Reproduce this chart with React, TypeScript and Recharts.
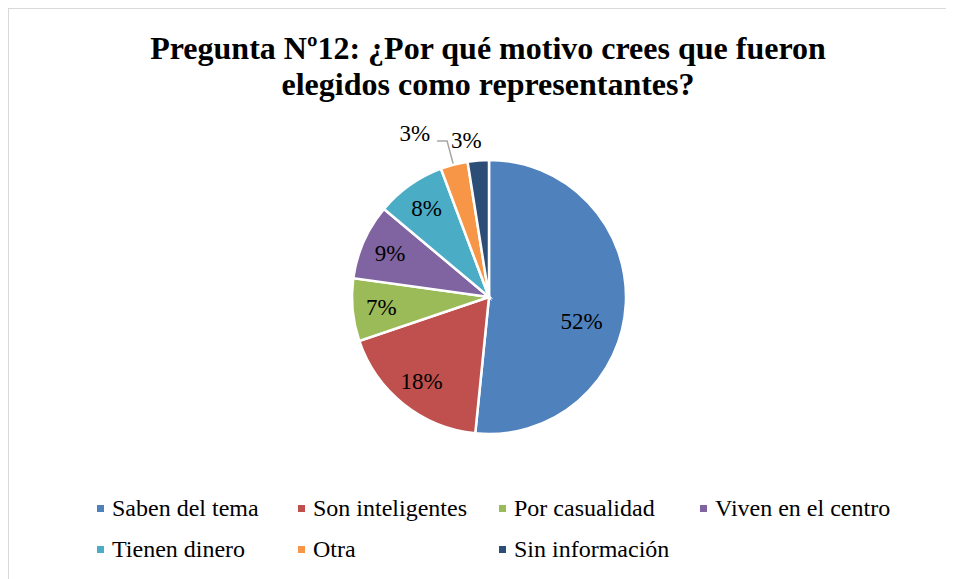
import React from "react";
import { PieChart, Pie, Cell, Legend } from "recharts";

const categories = [
  "Saben del tema",
  "Son inteligentes",
  "Por casualidad",
  "Viven en el centro",
  "Tienen dinero",
  "Otra",
  "Sin información",
];
const values = [51.6, 18.2, 7.4, 8.9, 8.2, 3.2, 2.5];
const colors = ["#4F81BD", "#C0504D", "#9BBB59", "#8064A2", "#4BACC6", "#F79646", "#2C4D75"];
const titleLines = ["Pregunta Nº12: ¿Por qué motivo crees que fueron", "elegidos como representantes?"];

const data = categories.map((name, i) => ({ name, value: values[i] }));

const FONT = "'Liberation Serif', 'Times New Roman', serif";
const RAD = Math.PI / 180;

const renderLabel = (props: any) => {
  const { cx, cy, midAngle, outerRadius, percent, index } = props;
  const text = `${Math.round(percent * 100)}%`;
  if (percent >= 0.05) {
    const ang = percent > 0.5 ? midAngle - 12 : midAngle;
    const r = percent > 0.5 ? outerRadius * 0.7 : outerRadius * 0.79;
    const x = cx + r * Math.cos(-ang * RAD);
    const y = cy + r * Math.sin(-ang * RAD);
    return (
      <text x={x} y={y} textAnchor="middle" dominantBaseline="central" fontFamily={FONT} fontSize={23} fill="#000">
        {text}
      </text>
    );
  }
  const ex = cx + outerRadius * Math.cos(-midAngle * RAD);
  const ey = cy + outerRadius * Math.sin(-midAngle * RAD);
  const isLast = index === values.length - 1;
  if (isLast) {
    return (
      <text x={ex - 12} y={cy - outerRadius - 20} textAnchor="middle" dominantBaseline="central" fontFamily={FONT} fontSize={23} fill="#000">
        {text}
      </text>
    );
  }
  const ly = cy - outerRadius - 19;
  return (
    <g>
      <polyline
        points={`${ex - 1},${ey - 1} ${ex - 7},${ly} ${ex - 17},${ly}`}
        fill="none"
        stroke="#A6A6A6"
        strokeWidth={1.5}
      />
      <text x={ex - 24} y={cy - outerRadius - 27} textAnchor="end" dominantBaseline="central" fontFamily={FONT} fontSize={23} fill="#000">
        {text}
      </text>
    </g>
  );
};

const legendRows = [categories.slice(0, 4), categories.slice(4)];

const renderLegend = () => (
  <div style={{ fontFamily: FONT, fontSize: 24, color: "#000" }}>
    {legendRows.map((row, ri) => (
      <div key={ri} style={{ display: "flex", height: 41, alignItems: "center" }}>
        {row.map((name) => {
          const i = categories.indexOf(name);
          return (
            <div key={name} style={{ width: 201, display: "flex", alignItems: "center", whiteSpace: "nowrap" }}>
              <span style={{ width: 7, height: 7, background: colors[i], display: "inline-block", marginRight: 8, flex: "none" }} />
              <span>{name}</span>
            </div>
          );
        })}
      </div>
    ))}
  </div>
);

export default function App() {
  return (
    <div
      style={{
        position: "relative",
        width: 946,
        height: 571,
        borderTop: "1.5px solid #D9D9D9",
        borderLeft: "1.5px solid #D9D9D9",
        boxSizing: "border-box",
        background: "#fff",
        overflow: "hidden",
      }}
    >
      <div
        style={{
          position: "absolute",
          left: 479,
          top: 21,
          transform: "translateX(-50%)",
          fontFamily: FONT,
          fontWeight: "bold",
          fontSize: 32,
          lineHeight: "36px",
          textAlign: "center",
          whiteSpace: "nowrap",
          color: "#000",
        }}
      >
        {titleLines.map((l) => (
          <div key={l}>{l}</div>
        ))}
      </div>
      <div style={{ position: "absolute", left: 0, top: 0 }}>
        <PieChart width={944} height={569} margin={{ top: 0, right: 0, bottom: 0, left: 0 }}>
          <Pie
            data={data}
            dataKey="value"
            nameKey="name"
            cx={480}
            cy={288}
            outerRadius={137}
            startAngle={90}
            endAngle={-270}
            stroke="#fff"
            strokeWidth={2.5}
            label={renderLabel}
            labelLine={false}
            isAnimationActive={false}
          >
            {data.map((d, i) => (
              <Cell key={d.name} fill={colors[i]} />
            ))}
          </Pie>
          <Legend
            content={renderLegend}
            wrapperStyle={{ position: "absolute", left: 88, top: 479, width: 840, bottom: "auto" }}
          />
        </PieChart>
      </div>
    </div>
  );
}
